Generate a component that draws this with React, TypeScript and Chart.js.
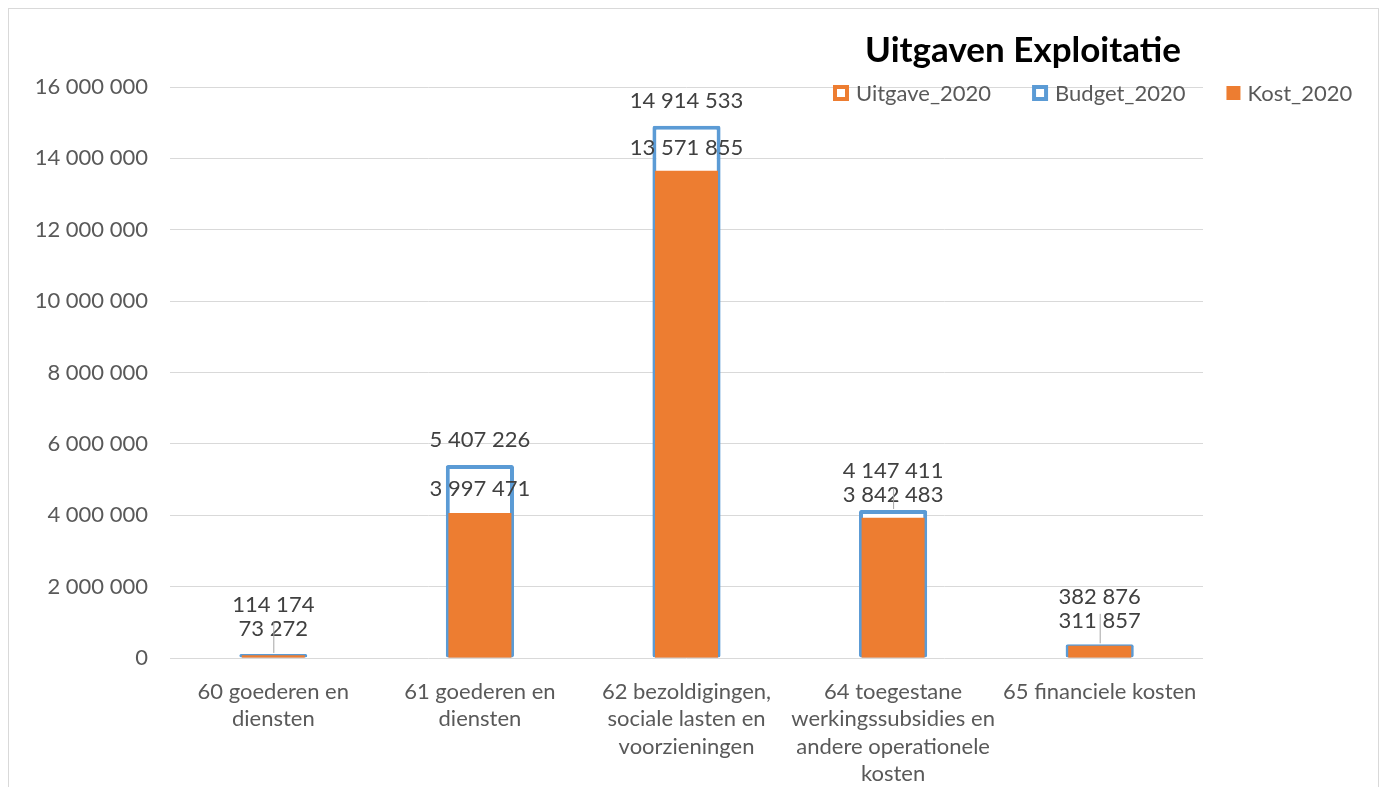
import React, { useEffect, useRef } from "react";
import { Chart, registerables } from "chart.js";

Chart.register(...registerables);

const categories: string[][] = [
  ["60 goederen en", "diensten"],
  ["61 goederen en", "diensten"],
  ["62 bezoldigingen,", "sociale lasten en", "voorzieningen"],
  ["64 toegestane", "werkingssubsidies en", "andere operationele", "kosten"],
  ["65 financiele kosten"],
];
const uitgave2020 = [73272, 3997471, 13571855, 3842483, 311857];
const budget2020 = [114174, 5407226, 14914533, 4147411, 382876];
const kost2020 = [80000, 4060000, 13650000, 3930000, 340000];
const seriesNames = ["Uitgave_2020", "Budget_2020", "Kost_2020"];
const chartTitle = "Uitgaven Exploitatie";
const yMin = 0;
const yMax = 16000000;
const yStep = 2000000;

const ORANGE = "#ed7d31";
const BLUE = "#5b9bd5";
const FONT = "Lato, 'Open Sans', sans-serif";

const fmt = (n: number) =>
  String(Math.round(n)).replace(/\B(?=(\d{3})+(?!\d))/g, " ");

const labelsPlugin = {
  id: "valueLabels",
  afterDatasetsDraw(chart: any) {
    const ctx = chart.ctx;
    const xs = chart.scales.x;
    const ys = chart.scales.y;
    ctx.save();
    ctx.font = `22px ${FONT}`;
    ctx.textAlign = "center";
    ctx.textBaseline = "middle";
    categories.forEach((_, i) => {
      const cx = xs.getPixelForValue(i);
      const yU = ys.getPixelForValue(uitgave2020[i]);
      const yB = ys.getPixelForValue(budget2020[i]);
      const uLabelY = yU - 26;
      const natural = yB - 25;
      const bLabelY = Math.min(natural, uLabelY - 24);
      ctx.fillStyle = "#404040";
      ctx.fillText(fmt(uitgave2020[i]), cx, uLabelY);
      ctx.fillText(fmt(budget2020[i]), cx, bLabelY);
      if (bLabelY < natural - 0.5) {
        ctx.strokeStyle = "#a6a6a6";
        ctx.lineWidth = 1;
        ctx.beginPath();
        ctx.moveTo(cx + 0.5, bLabelY + 17);
        ctx.lineTo(cx + 0.5, yB - 1);
        ctx.stroke();
      }
    });
    ctx.restore();
  },
  afterDraw(chart: any) {
    const ctx = chart.ctx;
    const w = chart.width;
    ctx.save();
    // title
    ctx.font = `bold 35px ${FONT}`;
    ctx.fillStyle = "#000000";
    ctx.textAlign = "center";
    ctx.textBaseline = "middle";
    ctx.fillText(chartTitle, w - 355, 42);
    // legend
    ctx.font = `22px ${FONT}`;
    ctx.textAlign = "left";
    ctx.textBaseline = "middle";
    const cy = 84;
    let x = w - 545;
    const kinds = ["outline", "outline", "fill"];
    const colors = [ORANGE, BLUE, ORANGE];
    seriesNames.forEach((name, i) => {
      if (kinds[i] === "outline") {
        ctx.fillStyle = colors[i];
        ctx.fillRect(x, cy - 8, 16, 16);
        ctx.fillStyle = "#ffffff";
        ctx.fillRect(x + 4, cy - 4, 8, 8);
        x += 16;
      } else {
        ctx.fillStyle = colors[i];
        ctx.fillRect(x, cy - 7, 14, 14);
        x += 14;
      }
      x += 7;
      ctx.fillStyle = "#595959";
      ctx.fillText(name, x, cy + 1);
      x += ctx.measureText(name).width + 41;
    });
    ctx.restore();
  },
};

export default function App() {
  const canvasRef = useRef<HTMLCanvasElement | null>(null);

  useEffect(() => {
    if (!canvasRef.current) return;
    const chart = new Chart(canvasRef.current, {
      type: "bar",
      data: {
        labels: categories as any,
        datasets: [
          {
            label: seriesNames[0],
            data: uitgave2020,
            backgroundColor: "#ffffff",
            borderColor: ORANGE,
            borderWidth: 3,
            borderSkipped: false,
            grouped: false,
            barPercentage: 0.305,
            categoryPercentage: 1,
            order: 3,
          } as any,
          {
            label: seriesNames[1],
            data: budget2020,
            backgroundColor: "#ffffff",
            borderColor: BLUE,
            borderWidth: 4,
            borderRadius: 2,
            borderSkipped: false,
            grouped: false,
            barPercentage: 0.33,
            categoryPercentage: 1,
            order: 2,
          } as any,
          {
            label: seriesNames[2],
            data: kost2020,
            backgroundColor: ORANGE,
            borderWidth: 0,
            grouped: false,
            barPercentage: 0.305,
            categoryPercentage: 1,
            order: 1,
          } as any,
        ],
      },
      options: {
        animation: false,
        responsive: true,
        maintainAspectRatio: false,
        layout: { padding: { top: 78, right: 175, left: 0, bottom: 0 } },
        plugins: {
          legend: { display: false },
          title: { display: false },
          tooltip: { enabled: false },
        },
        scales: {
          x: {
            grid: { display: false },
            border: { display: false },
            ticks: {
              color: "#595959",
              font: { family: FONT, size: 22, lineHeight: 1.25 },
              padding: 12,
              maxRotation: 0,
              minRotation: 0,
              autoSkip: false,
            },
            afterFit(scale: any) {
              scale.height = 129;
            },
          },
          y: {
            min: yMin,
            max: yMax,
            grid: { color: "#d9d9d9", lineWidth: 1, drawTicks: false },
            border: { display: false },
            ticks: {
              stepSize: yStep,
              color: "#595959",
              font: { family: FONT, size: 22 },
              padding: 22,
              callback: (v: any) => fmt(Number(v)),
            },
            afterFit(scale: any) {
              scale.width = 161;
            },
          },
        },
      },
      plugins: [labelsPlugin],
    });
    return () => chart.destroy();
  }, []);

  return (
    <div
      style={{
        position: "fixed",
        left: 8,
        top: 8,
        width: 1371,
        height: 779,
        boxSizing: "border-box",
        border: "1px solid #d9d9d9",
        borderBottom: "none",
        background: "#ffffff",
      }}
    >
      <div style={{ position: "relative", width: "100%", height: "100%" }}>
        <canvas ref={canvasRef} />
      </div>
    </div>
  );
}
